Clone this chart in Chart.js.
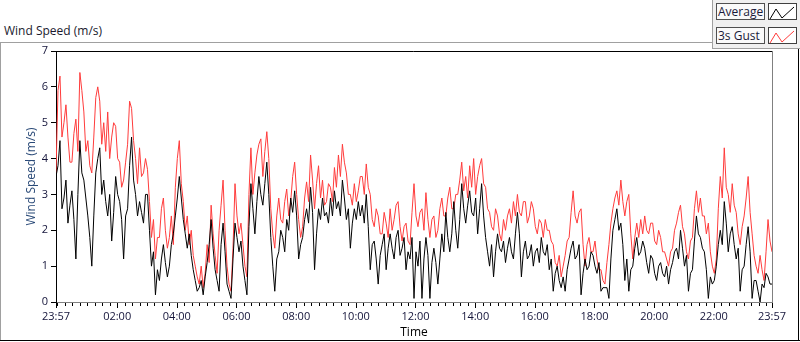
<!DOCTYPE html>
<html>
<head>
<meta charset="utf-8">
<script src="https://cdn.jsdelivr.net/npm/chart.js@4.4.1/dist/chart.umd.min.js"></script>
<style>
  body { margin: 0; width: 800px; height: 342px; overflow: hidden; background: #fff; position: relative;
         font-family: 'Open Sans', sans-serif; }
  canvas { position: absolute; left: 0; top: 0; }
  .line { position: absolute; }
  .title { position: absolute; left: 4px; top: 22px; font-size: 12px; color: #1a1a2e; white-space: nowrap; }
  .legend { position: absolute; left: 712px; top: 0; width: 87px; height: 48px; background: #f0f0f0;
            border-left: 1px solid #a0a0a0; border-bottom: 1px solid #a0a0a0; }
  .lbox { position: absolute; left: 3px; width: 46px; height: 15px; background: #fafafa; border: 1px solid #505050;
          font-size: 12px; line-height: 15px; padding-left: 1px; color: #1a1a3a; white-space: nowrap; }
  .ibox { position: absolute; left: 55px; width: 27px; height: 15px; background: #fff; border: 1px solid #404040; }
</style>
</head>
<body>
<div class="title">Wind Speed (m/s)</div>
<div class="line" style="left:0;top:42px;width:712px;height:1px;background:#a0a0a0"></div>
<div class="line" style="left:0;top:42px;width:1px;height:299px;background:#a0a0a0"></div>
<div class="line" style="left:0;top:340px;width:800px;height:1px;background:#000"></div>
<div class="line" style="left:798px;top:49px;width:1px;height:292px;background:#000"></div>
<canvas id="chart-wind" width="800" height="342"></canvas>
<div class="legend">
  <div class="lbox" style="top:3px">Average</div>
  <div class="ibox" style="top:3px"><svg width="27" height="15"><polyline points="1,13 7,3 13,12 25,1" fill="none" stroke="#000" stroke-width="1"/></svg></div>
  <div class="lbox" style="top:27px">3s Gust</div>
  <div class="ibox" style="top:27px"><svg width="27" height="15"><polyline points="1,13 7,3 13,12 25,1" fill="none" stroke="#ff3b3b" stroke-width="1"/></svg></div>
</div>
<script>
// ── Data (minutes after 23:57, one sample every 4 minutes) ──────
const SAMPLE_STEP_MIN = 4;

const avgSpeed = [
  3.5, 3.8, 4.5, 2.6, 2.9, 3.4, 2.2, 2.7, 3.1, 2.3, 1.2, 3.0, 4.5, 3.6, 3.4, 2.9, 2.4, 1.8, 1.0, 2.4,
  3.6, 4.0, 4.3, 3.0, 3.4, 2.8, 2.4, 3.0, 1.7, 2.5, 3.5, 3.0, 2.8, 2.3, 1.2, 2.4, 2.6, 3.8, 4.6, 3.4,
  3.0, 2.4, 2.8, 2.5, 2.2, 3.0, 3.0, 2.0, 1.0, 1.4, 0.2, 0.9, 0.6, 1.2, 1.6, 1.1, 0.7, 1.0, 1.6, 1.9,
  2.4, 2.9, 3.5, 2.9, 2.3, 1.9, 1.5, 1.9, 1.3, 0.9, 0.6, 0.3, 0.4, 0.6, 0.2, 0.7, 1.1, 1.6, 2.3, 1.5,
  0.9, 0.6, 0.3, 1.6, 2.2, 1.4, 0.5, 0.3, 0.1, 1.2, 2.2, 1.8, 1.4, 1.7, 1.0, 0.6, 0.2, 2.1, 3.3, 2.6,
  1.9, 2.8, 3.5, 3.0, 2.7, 3.3, 3.9, 3.0, 1.8, 1.0, 0.3, 1.2, 1.4, 2.0, 1.8, 1.4, 2.3, 2.0, 2.9, 2.5,
  3.1, 2.4, 1.2, 1.6, 1.8, 2.3, 2.6, 2.2, 3.2, 2.5, 0.9, 1.9, 2.6, 2.3, 2.9, 2.4, 2.5, 2.2, 2.9, 2.4,
  3.1, 2.6, 2.8, 2.4, 3.4, 2.9, 2.3, 2.6, 1.5, 2.2, 2.6, 2.3, 2.8, 2.4, 2.7, 2.2, 3.0, 2.1, 0.9, 1.6,
  1.7, 1.2, 0.5, 1.3, 1.6, 1.9, 0.9, 1.5, 1.9, 1.5, 1.2, 1.8, 2.0, 1.3, 1.5, 1.8, 0.9, 1.4, 1.2, 1.8,
  0.1, 1.4, 1.0, 1.7, 0.1, 1.2, 1.8, 1.3, 0.1, 1.1, 1.5, 1.1, 0.5, 1.2, 1.9, 1.4, 2.5, 1.8, 1.4, 1.9,
  2.8, 2.0, 1.5, 2.3, 3.3, 2.6, 2.2, 2.7, 3.1, 2.5, 2.4, 2.9, 1.9, 2.6, 3.3, 2.4, 1.8, 1.4, 1.0, 1.6,
  0.7, 1.4, 1.9, 1.5, 1.4, 1.7, 1.1, 1.5, 1.8, 1.4, 1.2, 1.9, 2.5, 1.9, 0.7, 1.4, 1.7, 1.2, 1.3, 1.6,
  1.0, 1.4, 1.5, 1.1, 1.8, 1.4, 1.3, 1.6, 0.9, 1.2, 0.3, 0.8, 1.0, 0.6, 0.4, 0.7, 0.3, 0.9, 1.2, 1.5,
  1.7, 1.2, 1.3, 1.6, 0.2, 0.8, 1.2, 0.9, 1.0, 1.4, 1.3, 1.0, 0.8, 1.1, 0.3, 0.4, 0.4, 0.4, 0.1, 1.2,
  2.0, 2.3, 2.6, 2.0, 2.2, 1.6, 0.6, 1.2, 0.3, 0.9, 1.0, 1.5, 1.8, 1.3, 1.4, 1.7, 1.5, 1.1, 0.8, 1.3,
  1.2, 0.8, 0.6, 1.0, 1.1, 0.8, 0.7, 1.0, 0.5, 0.9, 1.1, 1.4, 1.5, 1.2, 2.0, 1.5, 1.0, 1.3, 0.3, 0.8,
  0.9, 1.7, 2.4, 1.9, 1.8, 1.5, 1.4, 0.9, 0.1, 0.7, 0.5, 0.6, 1.0, 1.6, 2.0, 1.6, 2.8, 2.2, 1.4, 1.9,
  2.1, 1.6, 1.2, 1.5, 0.3, 0.9, 1.0, 1.6, 2.1, 1.4, 0.1, 0.6, 0.6, 0.3, 0.0, 0.5, 0.4, 0.8, 0.7, 0.5,
  0.5
];

const gustSpeed = [
  3.6, 5.9, 6.3, 4.6, 5.0, 5.5, 4.6, 3.9, 3.9, 4.7, 5.1, 4.2, 6.4, 5.9, 5.3, 4.2, 4.5, 3.8, 3.6, 4.6,
  5.7, 6.0, 5.6, 4.4, 5.0, 4.2, 5.3, 4.0, 4.6, 5.0, 4.9, 4.0, 3.9, 3.2, 3.4, 3.9, 4.4, 5.6, 5.4, 4.5,
  4.0, 3.3, 4.3, 3.5, 3.6, 4.0, 3.7, 2.8, 1.8, 2.3, 1.2, 1.8, 1.8, 2.6, 2.9, 2.0, 1.5, 1.8, 2.4, 1.6,
  3.2, 4.0, 4.5, 3.3, 2.8, 2.0, 2.4, 1.6, 2.0, 1.3, 1.0, 0.7, 0.5, 1.0, 0.4, 0.8, 1.6, 1.1, 2.7, 1.9,
  1.3, 0.8, 2.0, 2.7, 3.4, 2.0, 1.0, 0.5, 0.3, 1.5, 3.3, 2.4, 1.9, 2.2, 1.6, 1.0, 0.7, 3.0, 4.3, 3.0,
  3.6, 4.1, 4.4, 4.55, 3.5, 4.2, 4.75, 4.0, 2.6, 1.9, 1.5, 2.4, 2.9, 2.3, 2.2, 2.8, 3.15, 2.4, 2.8, 3.5,
  3.9, 3.0, 2.3, 1.8, 2.1, 2.9, 3.35, 2.8, 4.1, 3.4, 2.6, 3.3, 3.8, 2.9, 3.4, 2.7, 2.8, 3.3, 3.2, 2.8,
  3.75, 3.2, 4.1, 3.5, 4.4, 3.9, 3.6, 3.0, 3.0, 2.7, 3.3, 2.8, 3.1, 3.5, 3.5, 3.0, 3.85, 3.2, 3.0, 2.3,
  2.1, 2.6, 2.4, 1.9, 1.9, 2.5, 2.2, 1.8, 2.6, 2.0, 2.3, 2.7, 2.8, 2.1, 1.7, 2.1, 2.2, 1.7, 1.6, 2.5,
  3.3, 2.4, 2.1, 2.5, 2.6, 2.0, 3.05, 2.3, 1.8, 2.3, 2.4, 1.8, 2.0, 2.6, 2.9, 2.4, 2.4, 2.9, 3.2, 2.6,
  2.6, 3.0, 3.0, 3.4, 3.9, 3.1, 3.5, 2.9, 3.8, 3.2, 4.0, 3.0, 3.5, 3.8, 4.0, 3.3, 3.2, 2.6, 2.5, 2.1,
  2.0, 2.6, 2.4, 1.9, 1.7, 2.3, 2.0, 2.4, 2.6, 2.2, 2.8, 2.4, 3.0, 2.5, 2.4, 2.8, 2.8, 2.2, 2.4, 2.8,
  2.6, 2.1, 1.9, 2.3, 2.2, 1.8, 2.3, 2.0, 2.0, 1.7, 1.6, 1.1, 1.0, 1.3, 0.7, 1.0, 1.3, 1.7, 1.8, 2.5,
  3.1, 2.4, 2.2, 2.5, 2.6, 1.6, 1.0, 1.6, 1.8, 1.4, 1.4, 1.7, 1.2, 0.9, 0.9, 0.6, 0.5, 1.1, 1.6, 2.2,
  2.6, 2.9, 3.1, 2.7, 3.4, 2.8, 2.4, 2.8, 3.0, 1.9, 1.2, 1.8, 2.2, 1.8, 2.3, 1.9, 2.4, 2.0, 1.9, 2.2,
  2.2, 1.7, 1.6, 2.0, 1.8, 1.4, 1.4, 1.2, 1.0, 1.4, 1.5, 2.0, 2.2, 2.5, 2.7, 2.1, 1.9, 1.4, 1.2, 1.7,
  1.8, 2.6, 3.1, 2.5, 2.9, 2.4, 2.4, 1.9, 2.2, 1.4, 1.0, 0.8, 1.2, 2.6, 3.5, 2.9, 4.3, 3.2, 3.0, 2.5,
  3.3, 2.7, 2.5, 1.9, 1.6, 2.1, 2.4, 2.9, 3.5, 2.5, 1.9, 1.3, 1.0, 0.8, 1.3, 0.9, 0.6, 1.4, 2.3, 1.7,
  1.4
];

// Axis ticks (minutes after 23:57)
const xTickMinutes = [0, 123, 243, 363, 483, 603, 723, 843, 963, 1083, 1203, 1323, 1440];
const xTickLabels  = ['23:57', '02:00', '04:00', '06:00', '08:00', '10:00', '12:00',
                      '14:00', '16:00', '18:00', '20:00', '22:00', '23:57'];
const MINOR_TICK_MIN = 15;

// ── Shared defaults ───────────────────────────────────────────
Chart.defaults.font.family = "'Open Sans', sans-serif";
Chart.defaults.font.size = 11;
Chart.defaults.color = '#14143a';

const toPoints = (vals) => vals.map((v, i) => ({ x: i * SAMPLE_STEP_MIN, y: v }));

// Frame (top / right edges) and x tick marks, LabVIEW style
const frameAndTicks = {
  id: 'frameAndTicks',
  afterDraw(chart) {
    const { ctx, chartArea: { top, bottom, left, right } } = chart;
    const xs = chart.scales.x;
    ctx.save();
    ctx.lineWidth = 1;
    ctx.strokeStyle = '#000';
    ctx.beginPath();
    ctx.moveTo(left - 0.5, top + 0.5);
    ctx.lineTo(right, top + 0.5);
    ctx.stroke();
    ctx.strokeStyle = '#808080';
    ctx.beginPath();
    ctx.moveTo(right + 0.5, top);
    ctx.lineTo(right + 0.5, bottom);
    ctx.stroke();

    ctx.strokeStyle = '#000';
    ctx.beginPath();
    for (let t = 3; t < 1440; t += MINOR_TICK_MIN) {
      const px = Math.round(xs.getPixelForValue(t)) + 0.5;
      ctx.moveTo(px, bottom + 1);
      ctx.lineTo(px, bottom + 4);
    }
    xTickMinutes.forEach((t) => {
      const px = Math.round(xs.getPixelForValue(t)) + 0.5;
      ctx.moveTo(px, bottom + 1);
      ctx.lineTo(px, bottom + 6);
    });
    ctx.stroke();
    ctx.restore();
  },
};

new Chart(document.getElementById('chart-wind').getContext('2d'), {
  type: 'line',
  data: {
    datasets: [
      {
        label: 'Average',
        data: toPoints(avgSpeed),
        borderColor: '#000000',
        borderWidth: 1,
        pointRadius: 0,
        tension: 0,
      },
      {
        label: '3s Gust',
        data: toPoints(gustSpeed),
        borderColor: '#ff3b3b',
        borderWidth: 1,
        pointRadius: 0,
        tension: 0,
      },
    ],
  },
  options: {
    responsive: false,
    animation: false,
    layout: { padding: { top: 51, right: 28, left: 0, bottom: 0 } },
    plugins: {
      legend: { display: false },
      tooltip: { enabled: false },
    },
    scales: {
      x: {
        type: 'linear',
        min: 0,
        max: 1440,
        afterBuildTicks: (scale) => { scale.ticks = xTickMinutes.map((v) => ({ value: v })); },
        afterFit: (scale) => { scale.height = 40; },
        ticks: {
          autoSkip: false,
          maxRotation: 0,
          padding: 8,
          callback: (v, i) => xTickLabels[i],
        },
        grid: { display: false, drawTicks: false },
        border: { display: true, color: '#808080' },
        title: {
          display: true,
          text: 'Time',
          color: '#000',
          font: { size: 12 },
          padding: { top: 0, bottom: 2 },
        },
      },
      y: {
        min: 0,
        max: 7,
        afterFit: (scale) => { scale.width = 56; },
        ticks: { stepSize: 1, padding: 3 },
        grid: { drawOnChartArea: false, tickLength: 5, tickColor: '#000' },
        border: { display: true, color: '#000' },
        title: {
          display: true,
          text: 'Wind Speed (m/s)',
          color: '#2a4a78',
          font: { size: 12 },
          padding: { top: 24, bottom: 0 },
        },
      },
    },
  },
  plugins: [frameAndTicks],
});
</script>
</body>
</html>
